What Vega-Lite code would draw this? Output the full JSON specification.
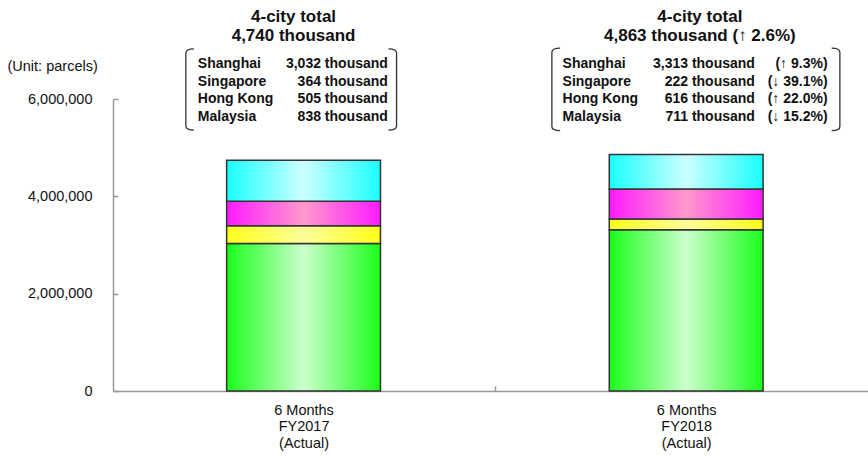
{
  "$schema": "https://vega.github.io/schema/vega-lite/v6.json",
  "width": 755,
  "height": 292,
  "autosize": {"type": "none"},
  "padding": {"left": 113, "top": 99, "right": 0, "bottom": 65},
  "background": "white",
  "config": {
    "view": {"stroke": null},
    "font": "Liberation Sans",
    "text": {"font": "Liberation Sans", "color": "#111"},
    "axisY": {"format": ",", "labelExpr": "format(datum.value, ',')"}
  },
  "datasets": {
    "parcels": [
      {"period": "FY2017", "city": "Shanghai", "rank": 1, "parcels": 3032000},
      {"period": "FY2017", "city": "Singapore", "rank": 2, "parcels": 364000},
      {"period": "FY2017", "city": "Hong Kong", "rank": 3, "parcels": 505000},
      {"period": "FY2017", "city": "Malaysia", "rank": 4, "parcels": 838000},
      {"period": "FY2018", "city": "Shanghai", "rank": 1, "parcels": 3313000},
      {"period": "FY2018", "city": "Singapore", "rank": 2, "parcels": 222000},
      {"period": "FY2018", "city": "Hong Kong", "rank": 3, "parcels": 616000},
      {"period": "FY2018", "city": "Malaysia", "rank": 4, "parcels": 711000}
    ]
  },
  "layer": [
    {
      "data": {"name": "parcels"},
      "transform": [
        {"stack": "parcels", "groupby": ["period"], "sort": [{"field": "rank", "order": "ascending"}], "as": ["y0", "y1"]}
      ],
      "encoding": {
        "x": {
          "field": "period", "type": "nominal", "sort": ["FY2017", "FY2018"],
          "scale": {"type": "band", "paddingInner": 0.598, "paddingOuter": 0.2856, "align": 0.52},
          "axis": {
            "title": null,
            "labelAngle": 0,
            "labelExpr": "['6 Months', datum.label, '(Actual)']",
            "labelFontSize": 14.5,
            "labelColor": "#111",
            "labelLineHeight": 16.5,
            "labelBaseline": "top",
            "labelPadding": 17,
            "tickOffset": 191.3,
            "labelOffset": -191.3,
            "tickSize": -5,
            "tickColor": "#999",
            "tickWidth": 1.5,
            "domainColor": "#999",
            "domainWidth": 1.5
          }
        },
        "y": {
          "field": "y1", "type": "quantitative",
          "scale": {"domain": [0, 6000000], "nice": false, "zero": true},
          "axis": {
            "values": [0, 2000000, 4000000, 6000000],
            "format": ",",
            "grid": false,
            "labelFontSize": 14.5,
            "labelColor": "#111",
            "labelPadding": 26,
            "tickSize": -5,
            "tickColor": "#999",
            "tickWidth": 1.5,
            "domainColor": "#999",
            "domainWidth": 1.5,
            "title": "(Unit: parcels)",
            "titleAngle": 0,
            "titleAlign": "left",
            "titleBaseline": "middle",
            "titleX": -106,
            "titleY": -33,
            "titleFontSize": 14.5,
            "titleFontWeight": "normal",
            "titleColor": "#111"
          }
        },
        "y2": {"field": "y0"}
      },
      "layer": [
        {
          "transform": [{"filter": "datum.city === 'Shanghai'"}],
          "mark": {"type": "bar", "stroke": "#333", "strokeWidth": 1.5,
            "color": {"gradient": "linear", "x1": 0, "x2": 1, "y1": 0, "y2": 0,
              "stops": [{"offset": 0, "color": "#1aff1a"}, {"offset": 0.5, "color": "#ccffcc"}, {"offset": 1, "color": "#1aff1a"}]}}
        },
        {
          "transform": [{"filter": "datum.city === 'Singapore'"}],
          "mark": {"type": "bar", "stroke": "#333", "strokeWidth": 1.5,
            "color": {"gradient": "linear", "x1": 0, "x2": 1, "y1": 0, "y2": 0,
              "stops": [{"offset": 0, "color": "#ffff1a"}, {"offset": 0.5, "color": "#ffff99"}, {"offset": 1, "color": "#ffff1a"}]}}
        },
        {
          "transform": [{"filter": "datum.city === 'Hong Kong'"}],
          "mark": {"type": "bar", "stroke": "#333", "strokeWidth": 1.5,
            "color": {"gradient": "linear", "x1": 0, "x2": 1, "y1": 0, "y2": 0,
              "stops": [{"offset": 0, "color": "#ff1aff"}, {"offset": 0.5, "color": "#ff99cc"}, {"offset": 1, "color": "#ff1aff"}]}}
        },
        {
          "transform": [{"filter": "datum.city === 'Malaysia'"}],
          "mark": {"type": "bar", "stroke": "#333", "strokeWidth": 1.5,
            "color": {"gradient": "linear", "x1": 0, "x2": 1, "y1": 0, "y2": 0,
              "stops": [{"offset": 0, "color": "#1affff"}, {"offset": 0.5, "color": "#ccffff"}, {"offset": 1, "color": "#1affff"}]}}
        }
      ]
    },
    {
      "data": {"values": [
        {"period": "FY2017",
         "title": ["4-city total", "4,740 thousand"],
         "cities": ["Shanghai", "Singapore", "Hong Kong", "Malaysia"],
         "amounts": ["3,032 thousand", "364 thousand", "505 thousand", "838 thousand"]}
      ]},
      "encoding": {
        "x": {"field": "period", "type": "nominal"},
        "y": {"datum": 6000000, "type": "quantitative"}
      },
      "layer": [
        {"mark": {"type": "text", "align": "center", "baseline": "top", "dx": -10, "dy": -90, "fontSize": 17, "fontWeight": "bold", "lineHeight": 19},
         "encoding": {"text": {"field": "title"}}},
        {"mark": {"type": "text", "align": "left", "baseline": "top", "dx": -105.7, "dy": -42, "fontSize": 14, "fontWeight": "bold", "lineHeight": 17.6},
         "encoding": {"text": {"field": "cities"}}},
        {"mark": {"type": "text", "align": "right", "baseline": "top", "dx": 84.3, "dy": -42, "fontSize": 14, "fontWeight": "bold", "lineHeight": 17.6},
         "encoding": {"text": {"field": "amounts"}}},
        {"mark": {"type": "point", "shape": "M 0.2 -1 Q 0 -1 0 -0.9 L 0 0.9 Q 0 1 0.2 1", "filled": false, "opacity": 1, "stroke": "#333", "strokeWidth": 1.3, "size": 6600, "xOffset": -117.7, "yOffset": -9.5}},
        {"mark": {"type": "point", "shape": "M -0.2 -1 Q 0 -1 0 -0.9 L 0 0.9 Q 0 1 -0.2 1", "filled": false, "opacity": 1, "stroke": "#333", "strokeWidth": 1.3, "size": 6600, "xOffset": 93, "yOffset": -9.5}}
      ]
    },
    {
      "data": {"values": [
        {"period": "FY2018",
         "title": ["4-city total", "4,863 thousand (↑ 2.6%)"],
         "cities": ["Shanghai", "Singapore", "Hong Kong", "Malaysia"],
         "amounts": ["3,313 thousand", "222 thousand", "616 thousand", "711 thousand"],
         "changes": ["(↑ 9.3%)", "(↓ 39.1%)", "(↑ 22.0%)", "(↓ 15.2%)"]}
      ]},
      "encoding": {
        "x": {"field": "period", "type": "nominal"},
        "y": {"datum": 6000000, "type": "quantitative"}
      },
      "layer": [
        {"mark": {"type": "text", "align": "center", "baseline": "top", "dx": 13.7, "dy": -90, "fontSize": 17, "fontWeight": "bold", "lineHeight": 19},
         "encoding": {"text": {"field": "title"}}},
        {"mark": {"type": "text", "align": "left", "baseline": "top", "dx": -123.6, "dy": -42, "fontSize": 14, "fontWeight": "bold", "lineHeight": 17.6},
         "encoding": {"text": {"field": "cities"}}},
        {"mark": {"type": "text", "align": "right", "baseline": "top", "dx": 68.7, "dy": -42, "fontSize": 14, "fontWeight": "bold", "lineHeight": 17.6},
         "encoding": {"text": {"field": "amounts"}}},
        {"mark": {"type": "text", "align": "right", "baseline": "top", "dx": 141.4, "dy": -42, "fontSize": 14, "fontWeight": "bold", "lineHeight": 17.6},
         "encoding": {"text": {"field": "changes"}}},
        {"mark": {"type": "point", "shape": "M 0.2 -1 Q 0 -1 0 -0.9 L 0 0.9 Q 0 1 0.2 1", "filled": false, "opacity": 1, "stroke": "#333", "strokeWidth": 1.3, "size": 6800, "xOffset": -134.3, "yOffset": -9.7}},
        {"mark": {"type": "point", "shape": "M -0.2 -1 Q 0 -1 0 -0.9 L 0 0.9 Q 0 1 -0.2 1", "filled": false, "opacity": 1, "stroke": "#333", "strokeWidth": 1.3, "size": 6800, "xOffset": 153.7, "yOffset": -9.7}}
      ]
    }
  ]
}
